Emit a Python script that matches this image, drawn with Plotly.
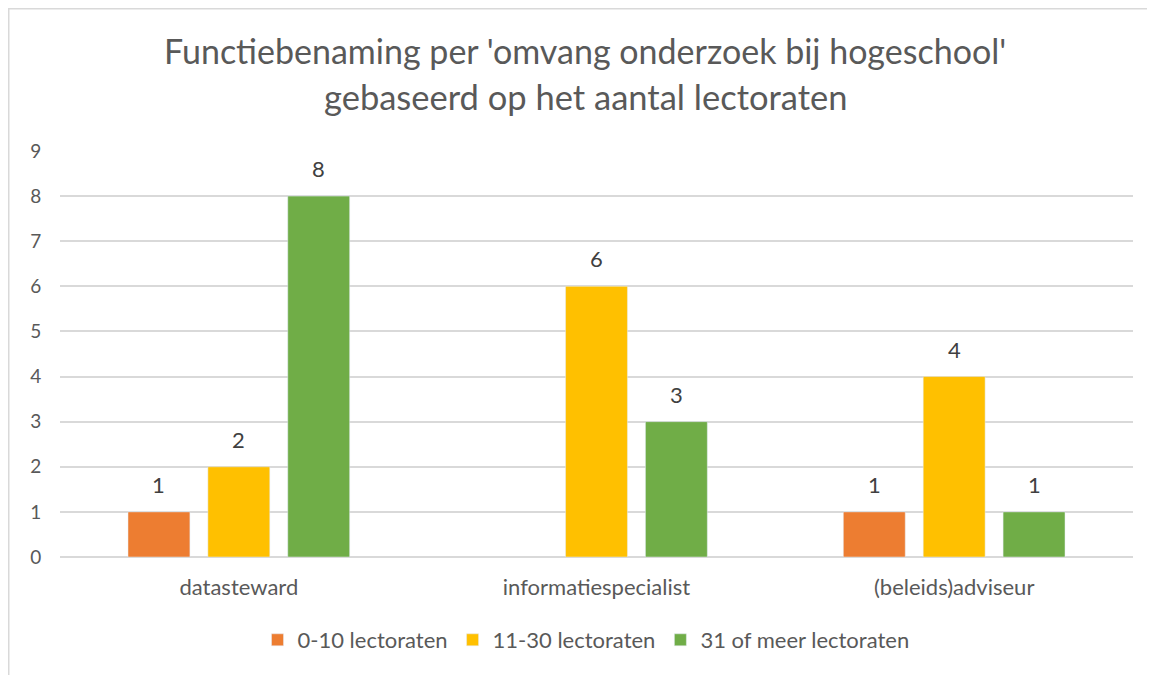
import plotly.graph_objects as go

categories = ["datasteward", "informatiespecialist", "(beleids)adviseur"]
series_names = ["0-10 lectoraten", "11-30 lectoraten", "31 of meer lectoraten"]
vals_0_10 = [1, None, 1]
vals_11_30 = [2, 6, 4]
vals_31_plus = [8, 3, 1]
colors = ["#ED7D31", "#FFC000", "#70AD47"]
title_line1 = "Functiebenaming per 'omvang onderzoek bij hogeschool'"
title_line2 = "gebaseerd op het aantal lectoraten"

FONT = "Lato"
GRAY = "#595959"

# page has an 8px body margin; figure is sized/offset to compensate
W, H = 1147, 667
L, R, T, B = 52, 22, 143, 118
pw, ph = W - L - R, H - T - B
BARGAP, GROUPGAP = 0.33, 0.225
slot = pw / len(categories) * (1 - BARGAP) / len(series_names)

all_series = [vals_0_10, vals_11_30, vals_31_plus]

fig = go.Figure()
for name, vals, col in zip(series_names, all_series, colors):
    fig.add_trace(go.Bar(x=categories, y=vals, name=name, marker_color=col))

annotations = []
for si, vals in enumerate(all_series):
    for cat, v in zip(categories, vals):
        if v is None:
            continue
        annotations.append(dict(
            x=cat, y=v, xref="x", yref="y", text=str(v), showarrow=False,
            xshift=(si - 1) * slot, yshift=12, yanchor="bottom",
            font=dict(family=FONT, size=22, color="#404040"),
        ))

for txt, fy, fs in [(title_line1, 42, 34), (title_line2, 88, 34.5)]:
    annotations.append(dict(
        text=txt, xref="paper", yref="paper", x=(577 - L) / pw, y=1,
        yshift=T - fy, xanchor="center", yanchor="middle", showarrow=False,
        font=dict(family=FONT, size=fs, color=GRAY),
    ))

fig.update_layout(
    width=W, height=H,
    margin=dict(l=L, r=R, t=T, b=B),
    paper_bgcolor="white", plot_bgcolor="white",
    barmode="group", bargap=BARGAP, bargroupgap=GROUPGAP,
    font=dict(family=FONT, color=GRAY),
    legend=dict(
        orientation="h", x=(586 - 8 - L) / pw, xanchor="center",
        y=-(632 - (H - B)) / ph, yanchor="middle",
        font=dict(family=FONT, size=22, color=GRAY),
        traceorder="normal",
    ),
    showlegend=True,
    xaxis=dict(
        showgrid=False, showline=False, ticks="outside", ticklen=11,
        tickcolor="rgba(0,0,0,0)", tickfont=dict(family=FONT, size=22, color=GRAY),
    ),
    yaxis=dict(
        range=[0, 9], dtick=1, showgrid=True, gridcolor="#d9d9d9", gridwidth=1.5,
        zeroline=True, zerolinecolor="#d9d9d9", zerolinewidth=1.5,
        ticks="outside", ticklen=14, tickcolor="rgba(0,0,0,0)",
        tickfont=dict(family=FONT, size=19, color=GRAY),
    ),
    annotations=annotations,
    shapes=[dict(
        type="rect", xref="paper", yref="paper",
        x0=(0.75 - L) / pw, x1=(W + 10 - L) / pw,
        y0=-(H + 10 - (H - B)) / ph, y1=((H - B) - 0.75) / ph,
        line=dict(color="#d9d9d9", width=1.5), fillcolor="rgba(0,0,0,0)", layer="below",
    )],
)

fig.write_html("out.html")
